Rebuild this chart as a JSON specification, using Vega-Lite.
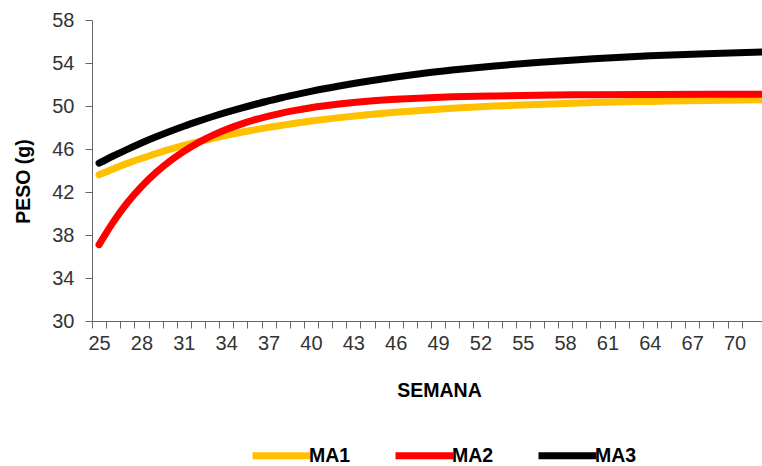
{
  "$schema": "https://vega.github.io/schema/vega-lite/v6.json",
  "autosize": {"type": "none"},
  "width": 670,
  "height": 301,
  "padding": {"left": 92, "top": 20, "right": 0, "bottom": 145},
  "background": "white",
  "config": {
    "view": {"stroke": null},
    "font": "Liberation Sans"
  },
  "data": {
    "values": [
      {"semana": 25, "serie": "MA1", "peso": 43.6},
      {"semana": 26, "serie": "MA1", "peso": 44.15},
      {"semana": 27, "serie": "MA1", "peso": 44.66},
      {"semana": 28, "serie": "MA1", "peso": 45.12},
      {"semana": 29, "serie": "MA1", "peso": 45.56},
      {"semana": 30, "serie": "MA1", "peso": 45.96},
      {"semana": 31, "serie": "MA1", "peso": 46.33},
      {"semana": 32, "serie": "MA1", "peso": 46.67},
      {"semana": 33, "serie": "MA1", "peso": 46.98},
      {"semana": 34, "serie": "MA1", "peso": 47.27},
      {"semana": 35, "serie": "MA1", "peso": 47.54},
      {"semana": 36, "serie": "MA1", "peso": 47.78},
      {"semana": 37, "serie": "MA1", "peso": 48.01},
      {"semana": 38, "serie": "MA1", "peso": 48.22},
      {"semana": 39, "serie": "MA1", "peso": 48.42},
      {"semana": 40, "serie": "MA1", "peso": 48.6},
      {"semana": 42, "serie": "MA1", "peso": 48.92},
      {"semana": 44, "serie": "MA1", "peso": 49.19},
      {"semana": 46, "serie": "MA1", "peso": 49.42},
      {"semana": 48, "serie": "MA1", "peso": 49.61},
      {"semana": 50, "serie": "MA1", "peso": 49.78},
      {"semana": 53, "serie": "MA1", "peso": 49.99},
      {"semana": 56, "serie": "MA1", "peso": 50.15},
      {"semana": 60, "serie": "MA1", "peso": 50.32},
      {"semana": 64, "serie": "MA1", "peso": 50.43},
      {"semana": 68, "serie": "MA1", "peso": 50.52},
      {"semana": 72, "serie": "MA1", "peso": 50.58},

      {"semana": 25, "serie": "MA2", "peso": 37.1},
      {"semana": 26, "serie": "MA2", "peso": 39.2},
      {"semana": 27, "serie": "MA2", "peso": 41.0},
      {"semana": 28, "serie": "MA2", "peso": 42.5},
      {"semana": 29, "serie": "MA2", "peso": 43.77},
      {"semana": 30, "serie": "MA2", "peso": 44.86},
      {"semana": 31, "serie": "MA2", "peso": 45.78},
      {"semana": 32, "serie": "MA2", "peso": 46.57},
      {"semana": 33, "serie": "MA2", "peso": 47.24},
      {"semana": 34, "serie": "MA2", "peso": 47.81},
      {"semana": 35, "serie": "MA2", "peso": 48.29},
      {"semana": 36, "serie": "MA2", "peso": 48.71},
      {"semana": 37, "serie": "MA2", "peso": 49.06},
      {"semana": 38, "serie": "MA2", "peso": 49.36},
      {"semana": 39, "serie": "MA2", "peso": 49.62},
      {"semana": 40, "serie": "MA2", "peso": 49.84},
      {"semana": 42, "serie": "MA2", "peso": 50.18},
      {"semana": 44, "serie": "MA2", "peso": 50.44},
      {"semana": 46, "serie": "MA2", "peso": 50.62},
      {"semana": 48, "serie": "MA2", "peso": 50.75},
      {"semana": 50, "serie": "MA2", "peso": 50.85},
      {"semana": 53, "serie": "MA2", "peso": 50.94},
      {"semana": 56, "serie": "MA2", "peso": 51.0},
      {"semana": 60, "serie": "MA2", "peso": 51.05},
      {"semana": 64, "serie": "MA2", "peso": 51.08},
      {"semana": 68, "serie": "MA2", "peso": 51.09},
      {"semana": 72, "serie": "MA2", "peso": 51.1},

      {"semana": 25, "serie": "MA3", "peso": 44.68},
      {"semana": 26, "serie": "MA3", "peso": 45.35},
      {"semana": 27, "serie": "MA3", "peso": 45.97},
      {"semana": 28, "serie": "MA3", "peso": 46.56},
      {"semana": 29, "serie": "MA3", "peso": 47.11},
      {"semana": 30, "serie": "MA3", "peso": 47.63},
      {"semana": 31, "serie": "MA3", "peso": 48.12},
      {"semana": 32, "serie": "MA3", "peso": 48.57},
      {"semana": 33, "serie": "MA3", "peso": 49.0},
      {"semana": 34, "serie": "MA3", "peso": 49.4},
      {"semana": 35, "serie": "MA3", "peso": 49.78},
      {"semana": 36, "serie": "MA3", "peso": 50.14},
      {"semana": 37, "serie": "MA3", "peso": 50.47},
      {"semana": 38, "serie": "MA3", "peso": 50.79},
      {"semana": 39, "serie": "MA3", "peso": 51.08},
      {"semana": 40, "serie": "MA3", "peso": 51.36},
      {"semana": 42, "serie": "MA3", "peso": 51.86},
      {"semana": 44, "serie": "MA3", "peso": 52.3},
      {"semana": 46, "serie": "MA3", "peso": 52.69},
      {"semana": 48, "serie": "MA3", "peso": 53.04},
      {"semana": 50, "serie": "MA3", "peso": 53.34},
      {"semana": 53, "serie": "MA3", "peso": 53.73},
      {"semana": 56, "serie": "MA3", "peso": 54.05},
      {"semana": 60, "serie": "MA3", "peso": 54.4},
      {"semana": 64, "serie": "MA3", "peso": 54.67},
      {"semana": 68, "serie": "MA3", "peso": 54.87},
      {"semana": 72, "serie": "MA3", "peso": 55.03}
    ]
  },
  "mark": {
    "type": "line",
    "strokeWidth": 7,
    "strokeCap": "round",
    "strokeJoin": "round",
    "interpolate": "monotone",
    "clip": true
  },
  "encoding": {
    "x": {
      "field": "semana",
      "type": "quantitative",
      "scale": {"domain": [24.5, 71.94], "nice": false, "zero": false},
      "axis": {
        "title": "SEMANA",
        "titleFontSize": 19.5,
        "titleFontWeight": "bold",
        "titleColor": "#000000",
        "titleX": 347,
        "titleY": 69,
        "titleBaseline": "middle",
        "titleAlign": "center",
        "values": [25,26,27,28,29,30,31,32,33,34,35,36,37,38,39,40,41,42,43,44,45,46,47,48,49,50,51,52,53,54,55,56,57,58,59,60,61,62,63,64,65,66,67,68,69,70,71,72],
        "labelExpr": "(datum.value - 25) % 3 === 0 ? datum.label : ''",
        "labelOverlap": false,
        "labelFlush": false,
        "tickOffset": -7,
        "labelOffset": 7,
        "tickSize": 7,
        "tickColor": "#666666",
        "domainColor": "#666666",
        "labelFontSize": 20,
        "labelColor": "#333333",
        "labelPadding": 5,
        "grid": false
      }
    },
    "y": {
      "field": "peso",
      "type": "quantitative",
      "scale": {"domain": [30, 58], "nice": false, "zero": false},
      "axis": {
        "title": "PESO (g)",
        "titleFontSize": 19.5,
        "titleFontWeight": "bold",
        "titleColor": "#000000",
        "titleX": -69,
        "titleY": 161,
        "titleBaseline": "middle",
        "titleAlign": "center",
        "values": [30, 34, 38, 42, 46, 50, 54, 58],
        "tickSize": 7,
        "tickColor": "#666666",
        "domainColor": "#666666",
        "labelFontSize": 20,
        "labelColor": "#333333",
        "labelPadding": 11,
        "grid": false
      }
    },
    "color": {
      "field": "serie",
      "type": "nominal",
      "scale": {"domain": ["MA1", "MA2", "MA3"], "range": ["#FFC000", "#FF0000", "#000000"]},
      "legend": {
        "title": null,
        "orient": "none",
        "direction": "horizontal",
        "legendX": 157,
        "legendY": 403,
        "symbolType": "stroke",
        "symbolSize": 3364,
        "symbolStrokeWidth": 7,
        "labelFontSize": 19.5,
        "labelFontWeight": "bold",
        "labelColor": "#000000",
        "labelOffset": -5,
        "columnPadding": 30,
        "padding": 0
      }
    }
  }
}
